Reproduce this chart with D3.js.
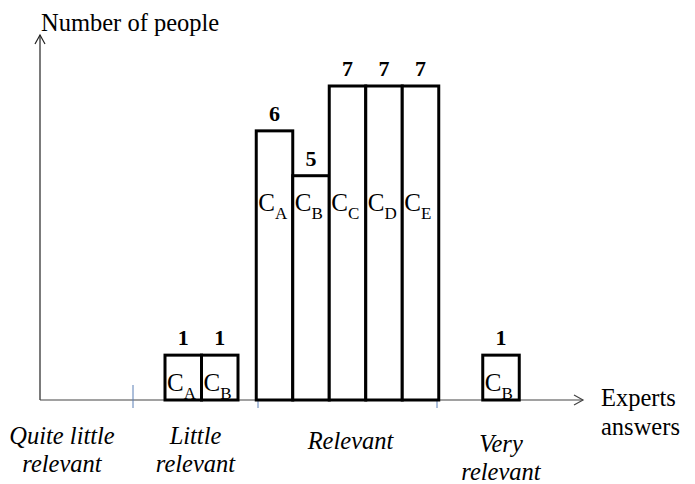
<!DOCTYPE html>
<html>
<head>
<meta charset="utf-8">
<script src="https://cdn.jsdelivr.net/npm/d3@7"></script>
<style>
  body { margin: 0; background: #fff; }
  text { font-family: "Liberation Serif", "Times New Roman", serif; fill: #000; }
</style>
</head>
<body>
<div class="chart_container"></div>
<script>
// answer categories (two-line labels under the axis)
const categories = ["Quite little relevant", "Little relevant", "Relevant", "Very relevant"];
const categoryLines = [["Quite little", "relevant"], ["Little", "relevant"], ["Relevant"], ["Very", "relevant"]];
// criteria answered in each category and how many people chose them
const criteria = [[], ["A", "B"], ["A", "B", "C", "D", "E"], ["B"]];
const counts = [[], [1, 1], [6, 5, 7, 7, 7], [1]];
const yTitle = "Number of people";
const xTitle = ["Experts", "answers"];

const width = 695, height = 484;
const barWidth = 36.5;

const container = document.querySelector('div.chart_container');
container.innerHTML = `<svg width=${width} height=${height}></svg>`;
const svg = d3.select(container).select('svg');

// category sections along the x axis (hand drawn, so not equal widths)
const xScale = d3.scaleLinear()
  .domain([0, 1, 2, 3, 4])
  .range([40, 133, 258, 437, 565]);

const yScale = d3.scaleLinear()
  .domain([0, 7])
  .range([400, 86]);

const bars = [];
categories.forEach((c, ci) => {
  const n = counts[ci].length;
  const center = (xScale(ci) + xScale(ci + 1)) / 2 + (ci === 1 ? 6 : 0);
  counts[ci].forEach((v, i) => {
    bars.push({ cat: c, crit: criteria[ci][i], value: v, x: center - n * barWidth / 2 + i * barWidth });
  });
});

// axes
const axisG = svg.append('g').attr('stroke', '#222').attr('fill', 'none').attr('stroke-width', 1.2);
axisG.append('line').attr('x1', xScale(0)).attr('y1', yScale(0)).attr('x2', xScale(0)).attr('y2', 35);
axisG.append('path').attr('d', `M${xScale(0) - 5},44 L${xScale(0)},35 L${xScale(0) + 5},44`);
axisG.append('line').attr('x1', xScale(0)).attr('y1', yScale(0)).attr('x2', 583).attr('y2', yScale(0)).attr('stroke', '#444');
axisG.append('path').attr('d', `M574,395 L583,${yScale(0)} L574,405`).attr('stroke', '#444');

// section separators
svg.selectAll('line.sep')
  .data([1, 2, 3]).enter().append('line')
  .attr('class', 'sep')
  .attr('x1', d => xScale(d)).attr('x2', d => xScale(d))
  .attr('y1', yScale(0) - 15).attr('y2', yScale(0) + 8)
  .attr('stroke', '#5a7fb5').attr('stroke-width', 1);

// bars
svg.selectAll('rect.bar')
  .data(bars).enter().append('rect')
  .attr('class', 'bar')
  .attr('x', d => d.x)
  .attr('y', d => yScale(d.value))
  .attr('width', barWidth)
  .attr('height', d => yScale(0) - yScale(d.value))
  .attr('fill', '#fff')
  .attr('stroke', '#000')
  .attr('stroke-width', 3);

// value labels
svg.selectAll('text.val')
  .data(bars).enter().append('text')
  .attr('class', 'val')
  .attr('x', d => d.x + barWidth / 2)
  .attr('y', d => yScale(d.value) - 10)
  .attr('text-anchor', 'middle')
  .attr('font-weight', 'bold')
  .attr('font-size', 22)
  .text(d => d.value);

// C_x labels inside the bars
const inner = svg.selectAll('text.crit')
  .data(bars).enter().append('text')
  .attr('class', 'crit')
  .attr('x', d => d.x + 2)
  .attr('y', d => d.value > 2 ? 211 : yScale(0) - 9)
  .attr('font-size', 25);
inner.append('tspan').text('C');
inner.append('tspan').attr('font-size', 17).attr('dy', 8).text(d => d.crit);

// category labels
categoryLines.forEach((lines, ci) => {
  const cx = ci === 0 ? 62 : (xScale(ci) + xScale(ci + 1)) / 2 + (ci === 2 ? 3 : 0);
  const t = svg.append('text')
    .attr('x', cx)
    .attr('y', lines.length === 1 ? 449 : (ci === 3 ? 452 : 444))
    .attr('text-anchor', 'middle')
    .attr('font-style', 'italic')
    .attr('font-size', 24.5);
  lines.forEach((l, li) => {
    t.append('tspan').attr('x', cx).attr('dy', li === 0 ? 0 : 28).text(l);
  });
});

// axis titles
svg.append('text').attr('x', 41).attr('y', 31).attr('font-size', 24.5).text(yTitle);
const xt = svg.append('text').attr('x', 601).attr('y', 406).attr('font-size', 24.5);
xTitle.forEach((l, i) => xt.append('tspan').attr('x', 601).attr('dy', i === 0 ? 0 : 29).text(l));
</script>
</body>
</html>
